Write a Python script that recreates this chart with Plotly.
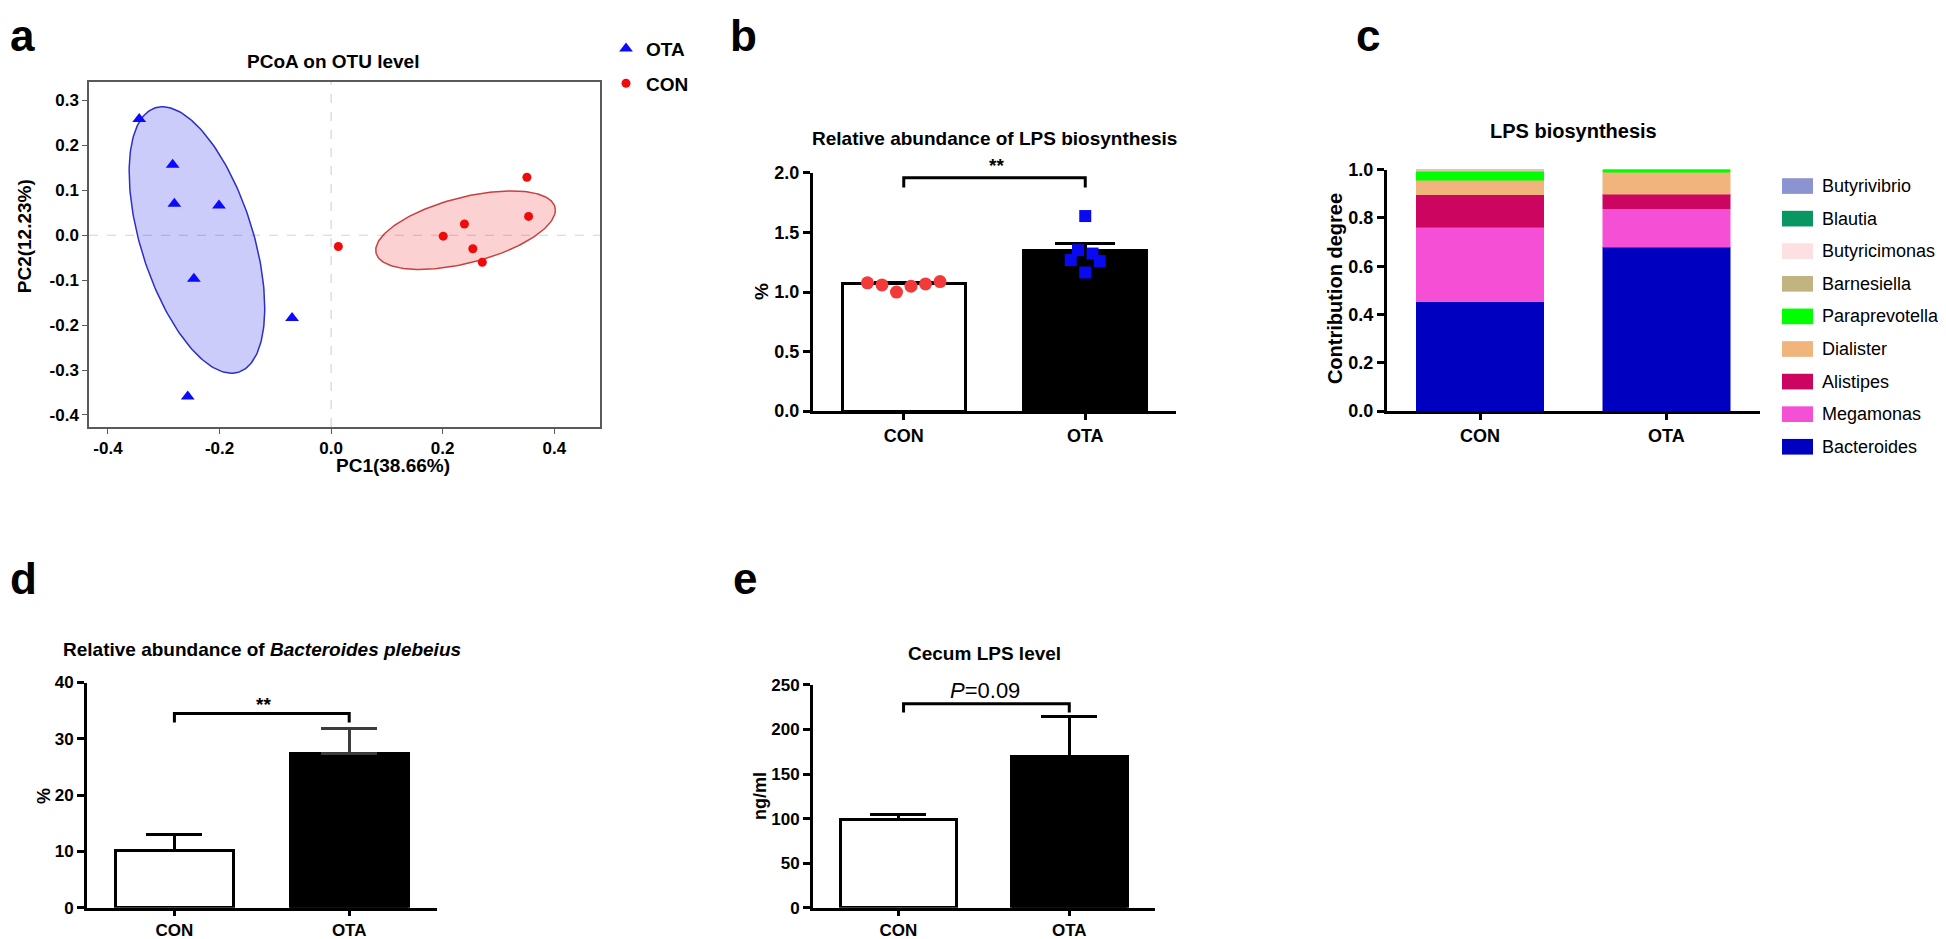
import numpy as np
import plotly.graph_objects as go

W, H = 1946, 939
FONT = "Liberation Sans, Arial, sans-serif"

# ---------------- data ----------------
# Panel a: PCoA scores
ota_pc1 = [-0.344, -0.284, -0.281, -0.201, -0.246, -0.070, -0.257]
ota_pc2 = [0.259, 0.157, 0.070, 0.066, -0.097, -0.184, -0.359]
con_pc1 = [0.013, 0.201, 0.239, 0.254, 0.271, 0.351, 0.354]
con_pc2 = [-0.025, -0.002, 0.025, -0.030, -0.060, 0.129, 0.042]
# confidence ellipses: centre x, centre y, half-width x, half-height y, correlation
ota_ellipse = [-0.2405, -0.0105, 0.1215, 0.2965, -0.51]
con_ellipse = [0.241, 0.0113, 0.161, 0.0874, 0.51]

groups = ["CON", "OTA"]

# Panel b: relative abundance of LPS biosynthesis (%)
lps_mean = [1.068, 1.348]
lps_err = [0.012, 0.057]
lps_con_pts = [1.077, 1.060, 1.000, 1.049, 1.068, 1.088]
lps_con_jitter = [-0.20, -0.12, -0.04, 0.04, 0.12, 0.20]
lps_ota_pts = [1.638, 1.351, 1.268, 1.323, 1.260, 1.164]
lps_ota_jitter = [0.0, -0.04, -0.08, 0.04, 0.08, 0.0]

# Panel c: contribution degree (stack order bottom -> top)
species = ["Bacteroides", "Megamonas", "Alistipes", "Dialister", "Paraprevotella",
           "Barnesiella", "Butyricimonas", "Blautia", "Butyrivibrio"]
contrib_con = [0.453, 0.308, 0.135, 0.061, 0.034, 0.006, 0.002, 0.0005, 0.0005]
contrib_ota = [0.678, 0.161, 0.060, 0.090, 0.010, 0.001, 0.0005, 0.0003, 0.0002]
species_colors = ["#0000c0", "#f54fd6", "#cc0660", "#f0b47c", "#00ff00",
                  "#c2b480", "#fde0e2", "#0a9660", "#8b93d0"]

# Panel d: Bacteroides plebeius (%)
bp_mean = [10.2, 27.4]
bp_err = [2.8, 4.5]

# Panel e: cecum LPS (ng/ml)
cecum_mean = [98.5, 169.7]
cecum_err = [6.2, 44.9]


# ---------------- helpers ----------------
def px(x):
    return x / W


def py(y):
    return 1 - y / H


def ellipse_path(p, n=200):
    cx, cy, rx, ry, rho = p
    t = np.linspace(0, 2 * np.pi, n)
    xs = cx + rx * np.cos(t)
    ys = cy + ry * (rho * np.cos(t) + np.sqrt(1 - rho ** 2) * np.sin(t))
    return xs, ys


def bold(size):
    return dict(family=FONT, size=size, color="black", weight="bold")


xpos = list(range(len(groups)))

fig = go.Figure()

# ---------------- panel a ----------------
for par, fillc, linec in [(ota_ellipse, "rgba(0,0,230,0.2)", "#2e2ec8"),
                          (con_ellipse, "rgba(235,0,0,0.18)", "#c84040")]:
    ex, ey = ellipse_path(par)
    fig.add_trace(go.Scatter(x=ex, y=ey, mode="lines", fill="toself", fillcolor=fillc,
                             line=dict(color=linec, width=1.5), showlegend=False,
                             hoverinfo="skip", xaxis="x", yaxis="y"))
fig.add_trace(go.Scatter(x=ota_pc1, y=ota_pc2, mode="markers", name="OTA", legendgroup="g1",
                         marker=dict(symbol="triangle-up", size=12, color="#0a0aff"),
                         xaxis="x", yaxis="y"))
fig.add_trace(go.Scatter(x=con_pc1, y=con_pc2, mode="markers", name="CON", legendgroup="g2",
                         marker=dict(symbol="circle", size=9, color="#f00a0a"),
                         xaxis="x", yaxis="y"))


# ---------------- bar panels (b, d, e) ----------------
def add_bars(means, errs, xa, ya, errcolors, capw):
    fills = ["white", "black"]
    for i in range(len(groups)):
        fig.add_trace(go.Bar(x=[xpos[i]], y=[means[i]], width=0.676,
                             marker=dict(color=fills[i], line=dict(color="black", width=3)),
                             error_y=dict(type="data", symmetric=False, array=[errs[i]],
                                          arrayminus=[0], thickness=3, width=capw,
                                          color=errcolors[i]),
                             showlegend=False, xaxis=xa, yaxis=ya))


def add_bracket(x0, x1, ylow, ytop, xa, ya):
    fig.add_trace(go.Scatter(x=[x0, x0, x1, x1], y=[ylow, ytop, ytop, ylow], mode="lines",
                             line=dict(color="black", width=3), showlegend=False,
                             hoverinfo="skip", xaxis=xa, yaxis=ya, cliponaxis=False))


add_bars(lps_mean, lps_err, "x2", "y2", ["black", "black"], 30)
fig.add_trace(go.Scatter(x=[xpos[0] + j for j in lps_con_jitter], y=lps_con_pts, mode="markers",
                         marker=dict(symbol="circle", size=13, color="#f23a3a"),
                         showlegend=False, xaxis="x2", yaxis="y2", cliponaxis=False))
fig.add_trace(go.Scatter(x=[xpos[1] + j for j in lps_ota_jitter], y=lps_ota_pts, mode="markers",
                         marker=dict(symbol="square", size=12, color="#0a0af0"),
                         showlegend=False, xaxis="x2", yaxis="y2", cliponaxis=False))
add_bracket(0, 1, 1.877, 1.959, "x2", "y2")

add_bars(bp_mean, bp_err, "x4", "y4", ["black", "#3c3c3c"], 28)
add_bracket(0, 1, 32.9, 34.5, "x4", "y4")

add_bars(cecum_mean, cecum_err, "x5", "y5", ["black", "black"], 28)
add_bracket(0.03, 1.0, 219, 228.8, "x5", "y5")

# ---------------- panel c ----------------
for s, c1, c2, col in zip(species, contrib_con, contrib_ota, species_colors):
    fig.add_trace(go.Bar(x=xpos, y=[c1, c2], width=0.685, name=s,
                         marker=dict(color=col, line=dict(color=col, width=0.5)),
                         showlegend=False, xaxis="x3", yaxis="y3"))


# ---------------- axes ----------------
def bar_axes(xdom, ydom, yrange, dtick, fmt, tsize, xsize, tlen):
    xa = dict(domain=xdom, range=[-0.5, 1.5], showline=True, linewidth=3, linecolor="black",
              ticks="outside", ticklen=tlen, tickwidth=3, tickcolor="black",
              tickvals=xpos, ticktext=groups, tickfont=bold(xsize),
              showgrid=False, zeroline=False, fixedrange=True)
    ya = dict(domain=ydom, range=yrange, showline=True, linewidth=3, linecolor="black",
              ticks="outside", ticklen=7, tickwidth=3, tickcolor="black",
              dtick=dtick, tick0=0, tickformat=fmt, tickfont=bold(tsize),
              showgrid=False, zeroline=False, fixedrange=True)
    return xa, ya


layout = dict(width=W, height=H, margin=dict(l=0, r=0, t=0, b=0),
              paper_bgcolor="white", plot_bgcolor="white", barmode="stack",
              showlegend=True,
              legend=dict(x=px(598), y=py(12), xanchor="left", yanchor="top",
                          font=bold(19), tracegroupgap=7, bgcolor="rgba(0,0,0,0)",
                          itemclick=False))

layout["xaxis"] = dict(domain=[px(81), px(592)], range=[-0.434, 0.482], anchor="y",
                       showline=True, mirror=True, linecolor="#5a5a5a", linewidth=1.5,
                       ticks="outside", ticklen=5, tickcolor="#5a5a5a", tickwidth=1.2,
                       tickvals=[-0.4, -0.2, 0.0, 0.2, 0.4],
                       ticktext=["-0.4", "-0.2", "0.0", "0.2", "0.4"],
                       tickfont=bold(17), showgrid=False, zeroline=False)
layout["yaxis"] = dict(domain=[py(418), py(65)], range=[-0.427, 0.342], anchor="x",
                       showline=True, mirror=True, linecolor="#5a5a5a", linewidth=1.5,
                       ticks="outside", ticklen=5, tickcolor="#5a5a5a", tickwidth=1.2,
                       tickvals=[0.3, 0.2, 0.1, 0.0, -0.1, -0.2, -0.3, -0.4],
                       ticktext=["0.3", "0.2", "0.1", "0.0", "-0.1", "-0.2", "-0.3", "-0.4"],
                       tickfont=bold(17), showgrid=False, zeroline=False)

xa, ya = bar_axes([px(805), px(1168)], [py(401.7), py(158.3)], [0, 2], 0.5, ".1f", 18, 18, 6)
layout["xaxis2"] = dict(xa, anchor="y2")
layout["yaxis2"] = dict(ya, anchor="x2")
xa, ya = bar_axes([px(1379), px(1751.5)], [py(401.7), py(155)], [0, 1], 0.2, ".1f", 18, 18, 6)
layout["xaxis3"] = dict(xa, anchor="y3")
layout["yaxis3"] = dict(ya, anchor="x3")
xa, ya = bar_axes([px(79), px(428.6)], [py(909), py(679)], [0, 40], 10, "d", 17, 17, 5)
layout["xaxis4"] = dict(xa, anchor="y4")
layout["yaxis4"] = dict(ya, anchor="x4")
xa, ya = bar_axes([px(805), px(1146.7)], [py(909), py(681.5)], [0, 250], 50, "d", 17, 17, 5)
layout["xaxis5"] = dict(xa, anchor="y5")
layout["yaxis5"] = dict(ya, anchor="x5")

fig.update_layout(**layout)

# ---------------- shapes ----------------
shapes = [
    dict(type="line", xref="x", yref="y domain", x0=0, x1=0, y0=0, y1=1, layer="below",
         line=dict(color="#d4d4d4", width=1.2, dash="dash")),
    dict(type="line", xref="x domain", yref="y", x0=0, x1=1, y0=0, y1=0, layer="below",
         line=dict(color="#d4d4d4", width=1.2, dash="dash")),
]
legend_top = 171.7
legend_step = 33.3
for i, s in enumerate(species[::-1]):
    col = species_colors[::-1][i]
    yc = legend_top + i * legend_step
    shapes.append(dict(type="rect", xref="paper", yref="paper",
                       x0=px(1774), x1=px(1805), y0=py(yc + 8), y1=py(yc - 8),
                       fillcolor=col, line=dict(width=0)))
fig.update_layout(shapes=shapes)

# ---------------- annotations ----------------
ann = []


def text(x, y, s, font, xanchor="center", yanchor="middle", angle=0):
    ann.append(dict(x=px(x), y=py(y), xref="paper", yref="paper", text=s, showarrow=False,
                    font=font, xanchor=xanchor, yanchor=yanchor, textangle=angle))


# panel letters
for lab, lx, ly in [("a", 0, 18), ("b", 720, 18), ("c", 1346, 18), ("d", 0, 573), ("e", 723, 573)]:
    text(lx, ly, lab, bold(44), xanchor="left")

# panel a
text(324.7, 44, "PCoA on OTU level", bold(19))
text(385, 457, "PC1(38.66%)", bold(19))
text(16, 223, "PC2(12.23%)", bold(19), angle=-90)

# panel b
text(987, 123, "Relative abundance of LPS biosynthesis", bold(19))
text(753, 280, "%", bold(19), angle=-90)
text(988, 151, "**", bold(19))

# panel c
text(1565, 115, "LPS biosynthesis", bold(20))
text(1327, 277, "Contribution degree", bold(20), angle=-90)
for i, s in enumerate(species[::-1]):
    text(1812, legend_top + i * legend_step, s,
         dict(family=FONT, size=18, color="black"), xanchor="left")

# panel d
text(254.5, 645, "Relative abundance of <i>Bacteroides plebeius</i>", bold(19))
text(36, 795, "%", bold(18), angle=-90)
text(255, 701, "**", bold(19))

# panel e
text(976, 649, "Cecum LPS level", bold(19))
text(752, 795, "ng/ml", bold(18), angle=-90)
text(977, 687, "<i>P</i>=0.09", dict(family=FONT, size=22, color="black"))

fig.update_layout(annotations=ann)

fig.write_html("out.html")
